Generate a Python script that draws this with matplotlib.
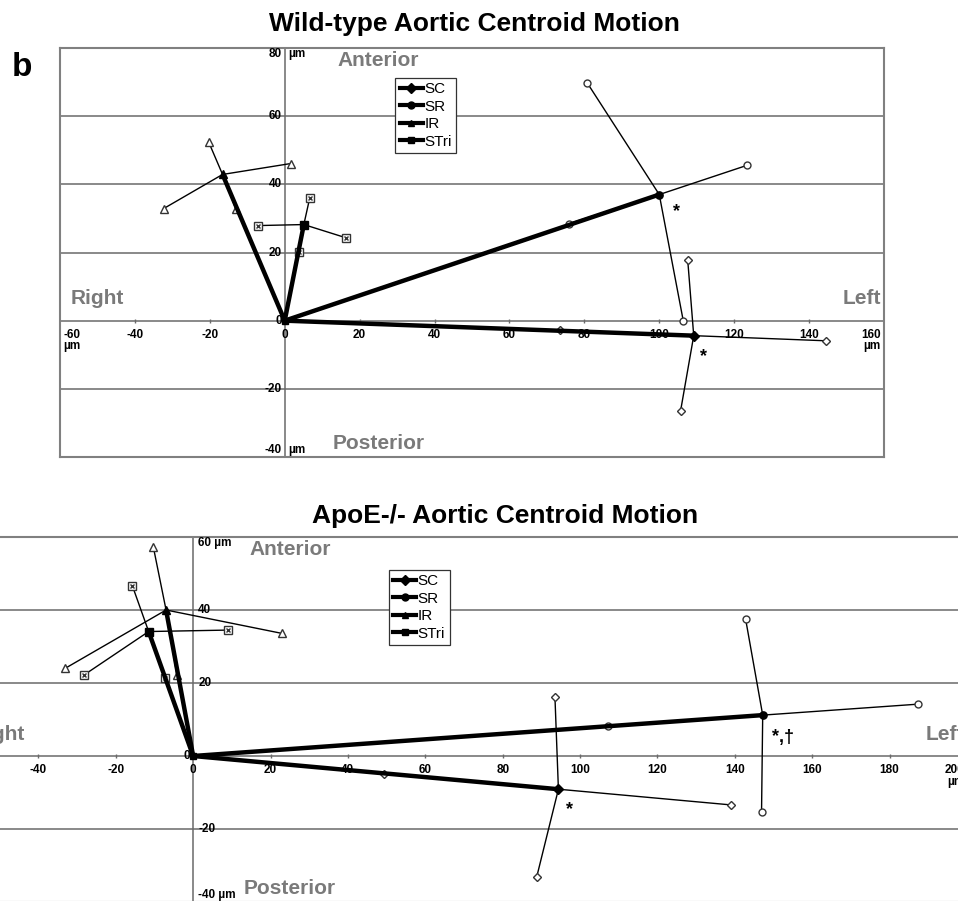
"""Aortic centroid motion, wild-type vs ApoE-/- (panel b)."""

import matplotlib

matplotlib.use("Agg")

import matplotlib.pyplot as plt
from matplotlib.lines import Line2D

plt.rcParams["font.family"] = ["Liberation Sans", "DejaVu Sans"]

series = ["SC", "SR", "IR", "STri"]

# wild-type: mean centroid per region and the four spoke ends (in, out, side a, side b)
wt_mean_x = [109.2, 100.0, -16.6, 5.1]
wt_mean_y = [-4.4, 37.0, 42.9, 28.2]
wt_end_x = [[73.6, 144.4, 107.6, 105.7], [76.0, 123.5, 80.8, 106.4],
            [-13.1, -20.3, 1.6, -32.3], [3.7, 6.7, -7.1, 16.4]]
wt_end_y = [[-2.8, -5.9, 17.7, -26.4], [28.5, 45.6, 69.7, 0.0],
            [32.9, 52.4, 46.1, 32.9], [20.2, 36.1, 27.9, 24.3]]
wt_x_ticks = list(range(-60, 161, 20))
wt_y_ticks = list(range(-40, 81, 20))

# ApoE-/-
apoe_mean_x = [94.4, 147.2, -7.0, -11.5]
apoe_mean_y = [-9.1, 11.2, 40.0, 34.1]
apoe_end_x = [[49.4, 139.0, 93.5, 88.8], [107.2, 187.3, 142.8, 146.9],
              [-4.2, -10.3, 22.9, -33.1], [-7.4, -15.7, 9.1, -28.2]]
apoe_end_y = [[-4.9, -13.4, 16.3, -33.1], [8.2, 14.2, 37.4, -15.3],
              [22.2, 57.3, 33.6, 24.0], [21.3, 46.6, 34.5, 22.2]]
apoe_x_ticks = list(range(-60, 201, 20))
apoe_y_ticks = list(range(-40, 61, 20))

MARKERS = {"SC": ("D", 4.5), "SR": ("o", 5.0), "IR": ("^", 6.0), "STri": ("s", 6.0)}
GRAY = "#7a7a7a"
LINE_GRAY = "#6a6a6a"
PX = 0.72  # points per pixel at dpi 100


def _draw_panel(ax, mean_x, mean_y, end_x, end_y, x_ticks, y_ticks, ylab_side, legend_xy):
    ax.set_xlim(x_ticks[0], x_ticks[-1])
    ax.set_ylim(y_ticks[0], y_ticks[-1])
    ax.set_xticks([])
    ax.set_yticks([])
    for sp in ax.spines.values():
        sp.set_color("#808080")
        sp.set_linewidth(1.5)

    for v in y_ticks[1:-1]:
        ax.axhline(v, color=LINE_GRAY, lw=1.1, zorder=1)
    ax.axvline(0, color=LINE_GRAY, lw=1.1, zorder=1)
    ax.plot(x_ticks[1:-1], [0] * (len(x_ticks) - 2), "|", color=LINE_GRAY, ms=3, mew=1, zorder=1)

    for i, name in enumerate(series):
        m, ms = MARKERS[name]
        mx, my = mean_x[i], mean_y[i]
        for ex, ey in zip(end_x[i], end_y[i]):
            ax.plot([mx, ex], [my, ey], color="black", lw=1.0, zorder=2)
        ax.plot(end_x[i], end_y[i], ls="none", marker=m, ms=ms, mfc="white",
                mec="#333333", mew=1.0, zorder=3)
        if name == "STri":
            ax.plot(end_x[i], end_y[i], ls="none", marker="x", ms=ms * 0.6,
                    mec="#333333", mew=1.0, zorder=3)
        ax.plot([0, mx], [0, my], color="black", lw=3.2, solid_capstyle="butt", zorder=4)
        ax.plot([mx], [my], ls="none", marker=m, ms=ms * 1.05, color="black", zorder=5)
    ax.plot([0], [0], ls="none", marker="s", ms=5, color="black", zorder=5)

    # tick labels
    tk = dict(fontsize=8.5, fontweight="bold", color="black", zorder=6)
    for v in y_ticks:
        dy = 0
        if v == y_ticks[-1]:
            dy = -6 * PX
        elif v == y_ticks[0]:
            dy = 7 * PX
        extreme = v in (y_ticks[0], y_ticks[-1])
        if ylab_side == "left" or v == 0:
            ax.annotate(f"{v}", (0, v), xytext=(-3 * PX, dy), textcoords="offset points",
                        ha="right", va="center", **tk)
            if extreme:
                ax.annotate("µm", (0, v), xytext=(4 * PX, dy), textcoords="offset points",
                            ha="left", va="center", **tk)
        else:
            txt = f"{v} µm" if extreme else f"{v}"
            ax.annotate(txt, (0, v), xytext=(5 * PX, dy), textcoords="offset points",
                        ha="left", va="center", **tk)
    for v in x_ticks:
        if v == x_ticks[0]:
            txt, ha, dx = f"{v}\nµm", "left", 3 * PX
        elif v == x_ticks[-1]:
            txt, ha, dx = f"{v}\nµm", "right", -3 * PX
        else:
            txt, ha, dx = f"{v}", "center", 0
        ax.annotate(txt, (v, 0), xytext=(dx, -8 * PX), textcoords="offset points",
                    ha=ha, va="top", linespacing=0.95, multialignment=ha, **tk)

    # direction labels
    big = dict(fontsize=15, fontweight="bold", color=GRAY, zorder=6)
    ax.annotate("Anterior", (25, y_ticks[-1]), xytext=(0, -3 * PX), textcoords="offset points",
                ha="center", va="top", **big)
    ax.annotate("Posterior", (25, y_ticks[0]), xytext=(0, 4 * PX), textcoords="offset points",
                ha="center", va="bottom", **big)
    ax.annotate("Right", (x_ticks[0], 0), xytext=(11 * PX, 22 * PX), textcoords="offset points",
                ha="left", va="center", **big)
    ax.annotate("Left", (x_ticks[-1], 0), xytext=(-3 * PX, 22 * PX), textcoords="offset points",
                ha="right", va="center", **big)

    handles = [Line2D([], [], color="black", lw=3, marker=MARKERS[n][0], ms=5, mfc="black", mec="black")
               for n in series]
    leg = ax.legend(handles, series, loc="upper left", bbox_to_anchor=legend_xy, borderaxespad=0,
                    fontsize=11, frameon=True, fancybox=False, framealpha=1, edgecolor="#333333",
                    handlelength=1.5, handletextpad=0.1, labelspacing=0.22, borderpad=0.3)
    leg.get_frame().set_linewidth(0.9)
    leg.set_zorder(7)


fig = plt.figure(figsize=(9.58, 9.01), dpi=100)

ax_wt = fig.add_axes([60 / 958, 1 - 457 / 901, 824 / 958, 409 / 901])
_draw_panel(ax_wt, wt_mean_x, wt_mean_y, wt_end_x, wt_end_y, wt_x_ticks, wt_y_ticks, "left", (0.407, 0.927))
star = dict(fontsize=13, fontweight="bold", color="black", zorder=6)
ax_wt.annotate("*", (104.5, 33.5), xytext=(0, -4), textcoords="offset points", ha="center", va="center", **star)
ax_wt.annotate("*", (111.7, -8.8), xytext=(0, -4), textcoords="offset points", ha="center", va="center", **star)

ax_ap = fig.add_axes([-39 / 958, 1 - 902 / 901, 1006 / 958, 365 / 901])
_draw_panel(ax_ap, apoe_mean_x, apoe_mean_y, apoe_end_x, apoe_end_y, apoe_x_ticks, apoe_y_ticks, "right",
            (0.425, 0.91))
ax_ap.annotate("*", (97.2, -13.2), xytext=(0, -4), textcoords="offset points", ha="center", va="center", **star)
ax_ap.annotate("*,†", (149.6, 6.7), xytext=(0, -4), textcoords="offset points", ha="left", va="center", **star)

fig.text(474 / 958, 1 - 24 / 901, "Wild-type Aortic Centroid Motion", ha="center", va="center",
         fontsize=19, fontweight="bold")
fig.text(505 / 958, 1 - 516 / 901, "ApoE-/- Aortic Centroid Motion", ha="center", va="center",
         fontsize=19, fontweight="bold")
fig.text(22 / 958, 1 - 68 / 901, "b", ha="center", va="center", fontsize=24, fontweight="bold")

fig.savefig("out.png", dpi=100)
plt.close(fig)
